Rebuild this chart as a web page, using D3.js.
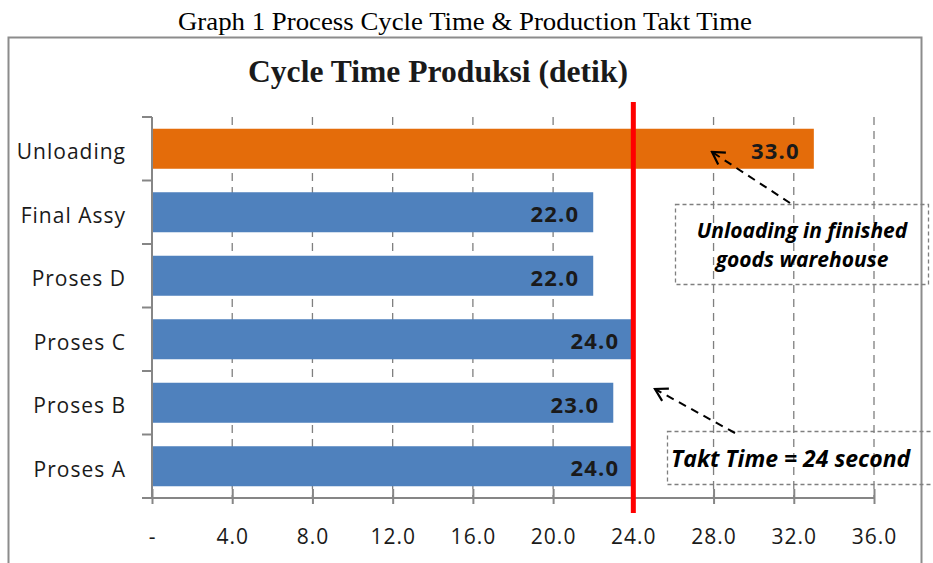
<!DOCTYPE html>
<html>
<head>
<meta charset="utf-8">
<script src="https://cdn.jsdelivr.net/npm/d3@7"></script>
<style>
  body { margin: 0; background: #fff; }
</style>
</head>
<body>
<svg width="933" height="563"></svg>
<script>
// chart values
var categories = ['Unloading', 'Final Assy', 'Proses D', 'Proses C', 'Proses B', 'Proses A'];
var cycleTimes = [33.0, 22.0, 22.0, 24.0, 23.0, 24.0];
var barColors = ['#E46C0A', '#4F81BD', '#4F81BD', '#4F81BD', '#4F81BD', '#4F81BD'];
var xTicks = [0, 4, 8, 12, 16, 20, 24, 28, 32, 36];
var taktTime = 24;

var svg = d3.select('svg');
var sans = '"Open Sans", "Noto Sans", sans-serif';
var serif = '"Liberation Serif", "Times New Roman", serif';

// plot area
var plot = {l: 152, r: 874, t: 117, b: 498};

var x = d3.scaleLinear()
    .domain([0, 36])
    .range([plot.l, plot.r]);

var y = d3.scaleBand()
    .domain(categories)
    .range([plot.t, plot.b])
    .paddingInner(0.37)
    .paddingOuter(0.185);

// page caption
svg.append('text')
    .attr('x', 465)
    .attr('y', 30)
    .attr('text-anchor', 'middle')
    .attr('textLength', 574)
    .attr('lengthAdjust', 'spacingAndGlyphs')
    .style('font-family', serif)
    .style('font-size', '25px')
    .text('Graph 1 Process Cycle Time & Production Takt Time');

// chart frame
svg.append('rect')
    .attr('x', 8.5)
    .attr('y', 37.5)
    .attr('width', 913)
    .attr('height', 540)
    .attr('fill', '#fff')
    .attr('stroke', '#8c8c8c')
    .attr('stroke-width', 2);

// chart title
svg.append('text')
    .attr('x', 438)
    .attr('y', 82)
    .attr('text-anchor', 'middle')
    .attr('textLength', 380)
    .attr('lengthAdjust', 'spacingAndGlyphs')
    .style('font-family', serif)
    .style('font-weight', 'bold')
    .style('font-size', '31px')
    .attr('fill', '#1a1a1a')
    .text('Cycle Time Produksi  (detik)');

// dashed grid lines
svg.append('g')
    .selectAll('line')
    .data(xTicks.slice(1))
    .enter()
    .append('line')
    .attr('x1', function(d) { return x(d); })
    .attr('x2', function(d) { return x(d); })
    .attr('y1', plot.t)
    .attr('y2', plot.b)
    .attr('stroke', '#7f7f7f')
    .attr('stroke-width', 1.3)
    .attr('stroke-dasharray', '8,6');

// bars
svg.append('g')
    .selectAll('rect')
    .data(categories)
    .enter()
    .append('rect')
    .attr('x', x(0))
    .attr('y', function(d) { return y(d); })
    .attr('width', function(d, i) { return x(cycleTimes[i]) - x(0); })
    .attr('height', y.bandwidth())
    .attr('fill', function(d, i) { return barColors[i]; });

// value labels
svg.append('g')
    .selectAll('text')
    .data(categories)
    .enter()
    .append('text')
    .attr('x', function(d, i) { return x(cycleTimes[i]) - 14; })
    .attr('y', function(d) { return y(d) + y.bandwidth() / 2 + 10; })
    .attr('text-anchor', 'end')
    .style('font-family', sans)
    .style('font-weight', 'bold')
    .style('font-size', '22px')
    .style('letter-spacing', '1.2px')
    .attr('fill', '#1a1a1a')
    .text(function(d, i) { return d3.format('.1f')(cycleTimes[i]); });

// x axis
var xAxis = d3.axisBottom(x)
    .tickValues(xTicks)
    .tickSize(0)
    .tickPadding(31)
    .tickFormat(function(d) { return d === 0 ? '-' : d3.format('.1f')(d); });

var xG = svg.append('g')
    .attr('transform', 'translate(0,' + plot.b + ')')
    .call(xAxis);
xG.select('.domain').attr('stroke', '#868686').attr('stroke-width', 2)
    .attr('d', 'M' + (plot.l - 8) + ',0H' + plot.r);
xG.selectAll('.tick line').remove();
xG.selectAll('.tick').append('line')
    .attr('y1', -9).attr('y2', 6)
    .attr('stroke', '#868686').attr('stroke-width', 2);
xG.selectAll('.tick text')
    .style('font-family', sans)
    .style('font-size', '21px')
    .style('letter-spacing', '1px')
    .attr('fill', '#1a1a1a');

// y axis
var yAxis = d3.axisLeft(y).tickSize(0).tickPadding(26);
var yG = svg.append('g')
    .attr('transform', 'translate(' + plot.l + ',0)')
    .call(yAxis);
yG.select('.domain').attr('stroke', '#868686').attr('stroke-width', 2)
    .attr('d', 'M0,' + plot.t + 'V' + plot.b);
yG.selectAll('.tick text')
    .attr('y', 4)
    .style('font-family', sans)
    .style('font-size', '21px')
    .style('letter-spacing', '1px')
    .attr('fill', '#1a1a1a');
// category boundary ticks
svg.append('g')
    .selectAll('line')
    .data(d3.range(categories.length + 1))
    .enter()
    .append('line')
    .attr('x1', plot.l - 10)
    .attr('x2', plot.l)
    .attr('y1', function(i) { return plot.t + i * (plot.b - plot.t) / categories.length; })
    .attr('y2', function(i) { return plot.t + i * (plot.b - plot.t) / categories.length; })
    .attr('stroke', '#868686')
    .attr('stroke-width', 2);

// takt time line
svg.append('line')
    .attr('x1', x(taktTime))
    .attr('x2', x(taktTime))
    .attr('y1', 102)
    .attr('y2', 513)
    .attr('stroke', '#FF0000')
    .attr('stroke-width', 5);

// annotations
svg.append('defs').append('marker')
    .attr('id', 'arrow')
    .attr('viewBox', '0 0 18 18')
    .attr('refX', 16)
    .attr('refY', 9)
    .attr('markerWidth', 18)
    .attr('markerHeight', 18)
    .attr('markerUnits', 'userSpaceOnUse')
    .attr('orient', 'auto')
    .append('path')
    .attr('d', 'M4,2L16,9L4,16')
    .attr('fill', 'none')
    .attr('stroke', '#000')
    .attr('stroke-width', 2.2);

function note(box, lines, arrow) {
    svg.append('rect')
        .attr('x', box.x).attr('y', box.y)
        .attr('width', box.w).attr('height', box.h)
        .attr('fill', 'none')
        .attr('stroke', '#7f7f7f')
        .attr('stroke-width', 1.3)
        .attr('stroke-dasharray', '4,3');
    lines.forEach(function(t) {
        svg.append('text')
            .attr('x', t.x).attr('y', t.y)
            .attr('text-anchor', t.anchor)
            .style('font-family', sans)
            .style('font-weight', 'bold')
            .style('font-style', 'italic')
            .style('font-size', t.size + 'px')
            .attr('fill', '#000')
            .text(t.text);
    });
    svg.append('line')
        .attr('x1', arrow[0]).attr('y1', arrow[1])
        .attr('x2', arrow[2]).attr('y2', arrow[3])
        .attr('stroke', '#000')
        .attr('stroke-width', 2)
        .attr('stroke-dasharray', '8,6')
        .attr('marker-end', 'url(#arrow)');
}

note({x: 675.5, y: 204.5, w: 253, h: 80},
    [{x: 802, y: 238, anchor: 'middle', size: 21, text: 'Unloading in finished'},
     {x: 802, y: 267, anchor: 'middle', size: 21, text: 'goods warehouse'}],
    [790, 203, 712, 152]);

note({x: 667.5, y: 431.5, w: 280, h: 53},
    [{x: 671, y: 467, anchor: 'start', size: 23, text: 'Takt Time = 24 second'}],
    [735, 433, 655, 389]);
</script>
</body>
</html>
